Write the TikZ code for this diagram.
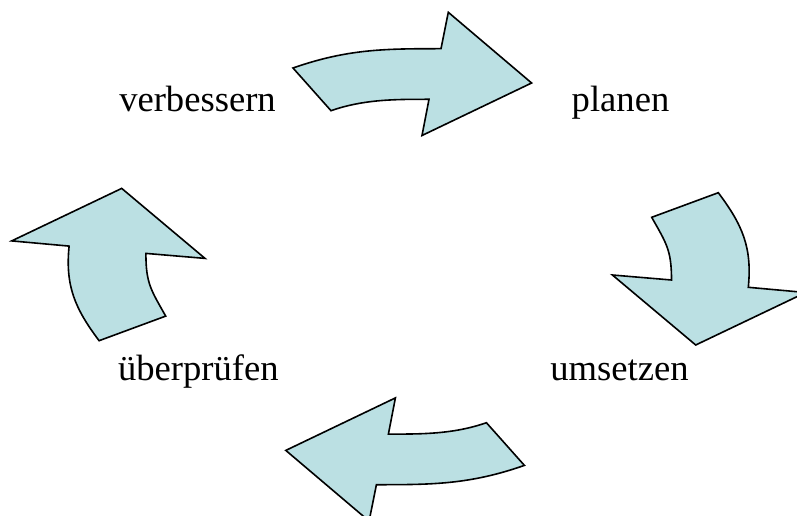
\documentclass[tikz,border=0pt]{standalone}
\usepackage{fontspec}
\setmainfont{Liberation Serif}
\definecolor{arrowfill}{RGB}{187,224,227}
\begin{document}
\begin{tikzpicture}[x=1pt,y=-1pt,
  cyc/.style={draw=black, fill=arrowfill, line width=1.6pt, line join=miter},
  lbl/.style={font=\fontsize{36.6}{44}\selectfont, anchor=base, inner sep=0pt}]
\useasboundingbox (0,0) rectangle (797,516);
\begin{scope}
\clip (0,0) rectangle (797,516);
% top arrow (to the right)
\draw[cyc] (293,68) .. controls (348,48.75) and (386,48.7) .. (441,48.7) -- (448.3,12.3) -- (531.6,83)
  -- (422,135.5) -- (429,99.3) .. controls (396,99.3) and (364,99.15) .. (331,110.7) -- cycle;
% right arrow (downwards)
\draw[cyc] (651.7,217.3) -- (718.3,192.7) .. controls (742.3,224.7) and (752.3,247.3) .. (748.3,287.3)
  -- (805.7,292.5) -- (695.7,345) -- (612.4,275) -- (671.5,280)
  .. controls (671.5,250) and (666.4,243.4) .. cycle;
% bottom arrow (to the left)
\begin{scope}[rotate around={180:(408.7,266.7)}]
\draw[cyc] (293,68) .. controls (348,48.75) and (386,48.7) .. (441,48.7) -- (448.3,12.3) -- (531.6,83)
  -- (422,135.5) -- (429,99.3) .. controls (396,99.3) and (364,99.15) .. (331,110.7) -- cycle;
\end{scope}
% left arrow (upwards)
\begin{scope}[rotate around={180:(408.7,266.7)}]
\draw[cyc] (651.7,217.3) -- (718.3,192.7) .. controls (742.3,224.7) and (752.3,247.3) .. (748.3,287.3)
  -- (805.7,292.5) -- (695.7,345) -- (612.4,275) -- (671.5,280)
  .. controls (671.5,250) and (666.4,243.4) .. cycle;
\end{scope}
\end{scope}
\node[lbl] (verbessern) at (197.5,111) {verbessern};
\node[lbl] (planen) at (620.5,111) {planen};
\node[lbl] (umsetzen) at (619.5,380.7) {umsetzen};
\node[lbl] (ueberpruefen) at (198.4,380.7) {überprüfen};
\end{tikzpicture}
\end{document}
